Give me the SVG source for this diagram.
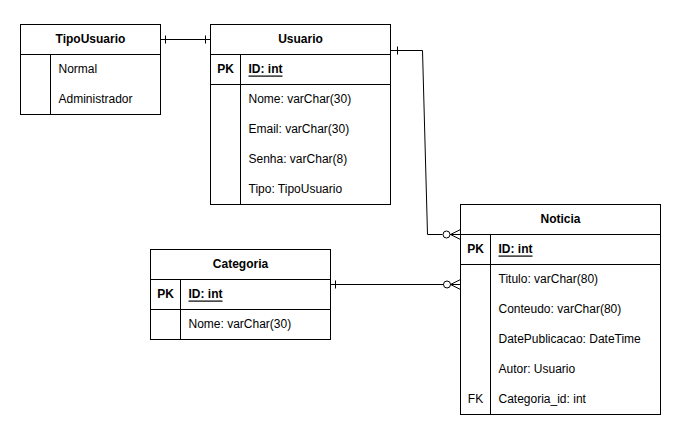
<svg xmlns="http://www.w3.org/2000/svg" width="686" height="432" viewBox="0 0 686 432">
<style>
.box{fill:#fff;stroke:#000;stroke-width:1}
.ln{fill:none;stroke:#000;stroke-width:1}
text{font-family:"Liberation Sans",Arial,sans-serif;font-size:12px;fill:#000;dominant-baseline:central;transform:translateY(-1px)}
.h{font-weight:bold;text-anchor:middle}
.k{font-weight:bold;text-anchor:middle}
.u{font-weight:bold;text-decoration:underline}
.c{fill:none;stroke:#000;stroke-width:1}
</style>
<rect width="686" height="432" fill="#fff"/>
<g transform="translate(0.5,0.5)">
<g id="TipoUsuario">
<rect class="box" x="20" y="24" width="140" height="90"/>
<path class="ln" d="M20 54H160M50 54V114"/>
<text class="h" x="90" y="39">TipoUsuario</text>
<text x="58" y="69">Normal</text>
<text x="58" y="99">Administrador</text>
</g>
<g id="Usuario">
<rect class="box" x="210" y="24" width="180" height="180"/>
<path class="ln" d="M210 54H390M210 84H390M240 54V204"/>
<text class="h" x="300" y="39">Usuario</text>
<text class="k" x="225" y="69">PK</text>
<text class="u" x="248" y="69">ID: int</text>
<text x="248" y="99">Nome: varChar(30)</text>
<text x="248" y="129">Email: varChar(30)</text>
<text x="248" y="159">Senha: varChar(8)</text>
<text x="248" y="189">Tipo: TipoUsuario</text>
</g>
<g id="Noticia">
<rect class="box" x="460" y="204" width="200" height="210"/>
<path class="ln" d="M460 234H660M460 264H660M490 234V414"/>
<text class="h" x="560" y="219">Noticia</text>
<text class="k" x="475" y="249">PK</text>
<text class="u" x="498" y="249">ID: int</text>
<text x="498" y="279">Titulo: varChar(80)</text>
<text x="498" y="309">Conteudo: varChar(80)</text>
<text x="498" y="339">DatePublicacao: DateTime</text>
<text x="498" y="369">Autor: Usuario</text>
<text x="475" y="399" text-anchor="middle">FK</text>
<text x="498" y="399">Categoria_id: int</text>
</g>
<g id="Categoria">
<rect class="box" x="150" y="249" width="180" height="90"/>
<path class="ln" d="M150 279H330M150 309H330M180 279V339"/>
<text class="h" x="240" y="264">Categoria</text>
<text class="k" x="165" y="294">PK</text>
<text class="u" x="188" y="294">ID: int</text>
<text x="188" y="324">Nome: varChar(30)</text>
</g>
<g id="connectors">
<path class="c" d="M160 39H210M165 35V43M205 35V43"/>
<path class="c" d="M390 50H422L427 234H442M397 46V54"/>
<circle class="c" cx="446" cy="234" r="3.5"/>
<path class="c" d="M449.5 234H460M450 234L460 229M450 234L460 239"/>
<path class="c" d="M330 284H443M335 280V288"/>
<circle class="c" cx="446.5" cy="284" r="3.5"/>
<path class="c" d="M450 284H460M450 284L460 279M450 284L460 289"/>
</g>
</g>
</svg>
